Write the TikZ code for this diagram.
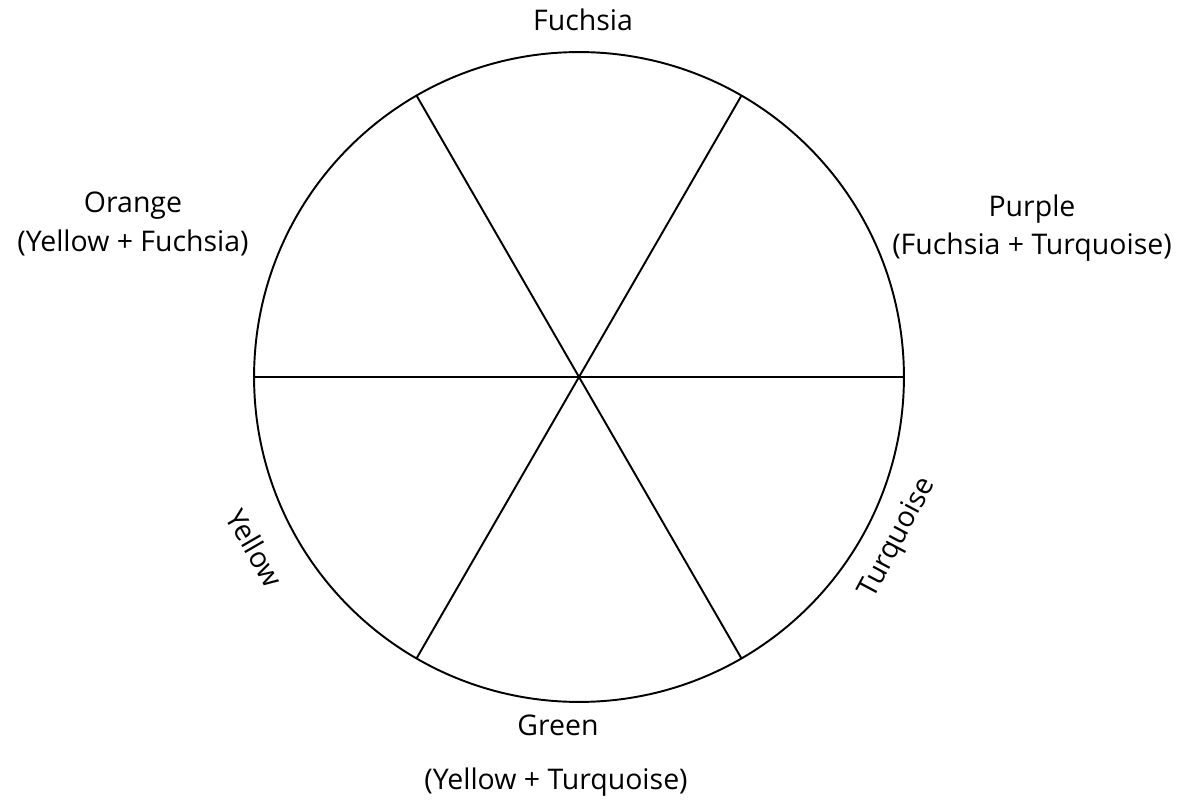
\documentclass[tikz,border=0pt]{standalone}
\usepackage{fontspec}
\setmainfont{Open Sans}
\usetikzlibrary{positioning}

\begin{document}
\begin{tikzpicture}[
		x=0.02cm, y=-0.02cm,
		every node/.style={
				font=\fontsize{16.2}{22}\selectfont,
				align=center,
				inner sep=0pt
			},
		spoke/.style={line width=1.1pt}
	]
	\useasboundingbox (0,0) rectangle (1177,804);

	% the wheel itself
	\node[circle, draw, line width=1.1pt, minimum size=13cm, outer sep=0pt] (wheel) at (579,377) {};
	\draw[spoke] (wheel.0) -- (wheel.180);
	\draw[spoke] (wheel.60) -- (wheel.240);
	\draw[spoke] (wheel.120) -- (wheel.300);

	% colour names round the rim
	\node (fuchsia) at (583,20) {Fuchsia};
	\node (orange) at (133,224) {Orange\\(Yellow + Fuchsia)};
	\node (purple) at (1032,228) {Purple\\(Fuchsia + Turquoise)};
	\node[rotate=-60] (yellow) at (255,548) {Yellow};
	\node[rotate=62] (turquoise) at (898,538) {Turquoise};
	\node (green) at (558,725) {Green};
	\node (greenmix) at (556,782) {(Yellow + Turquoise)};
\end{tikzpicture}
\end{document}
